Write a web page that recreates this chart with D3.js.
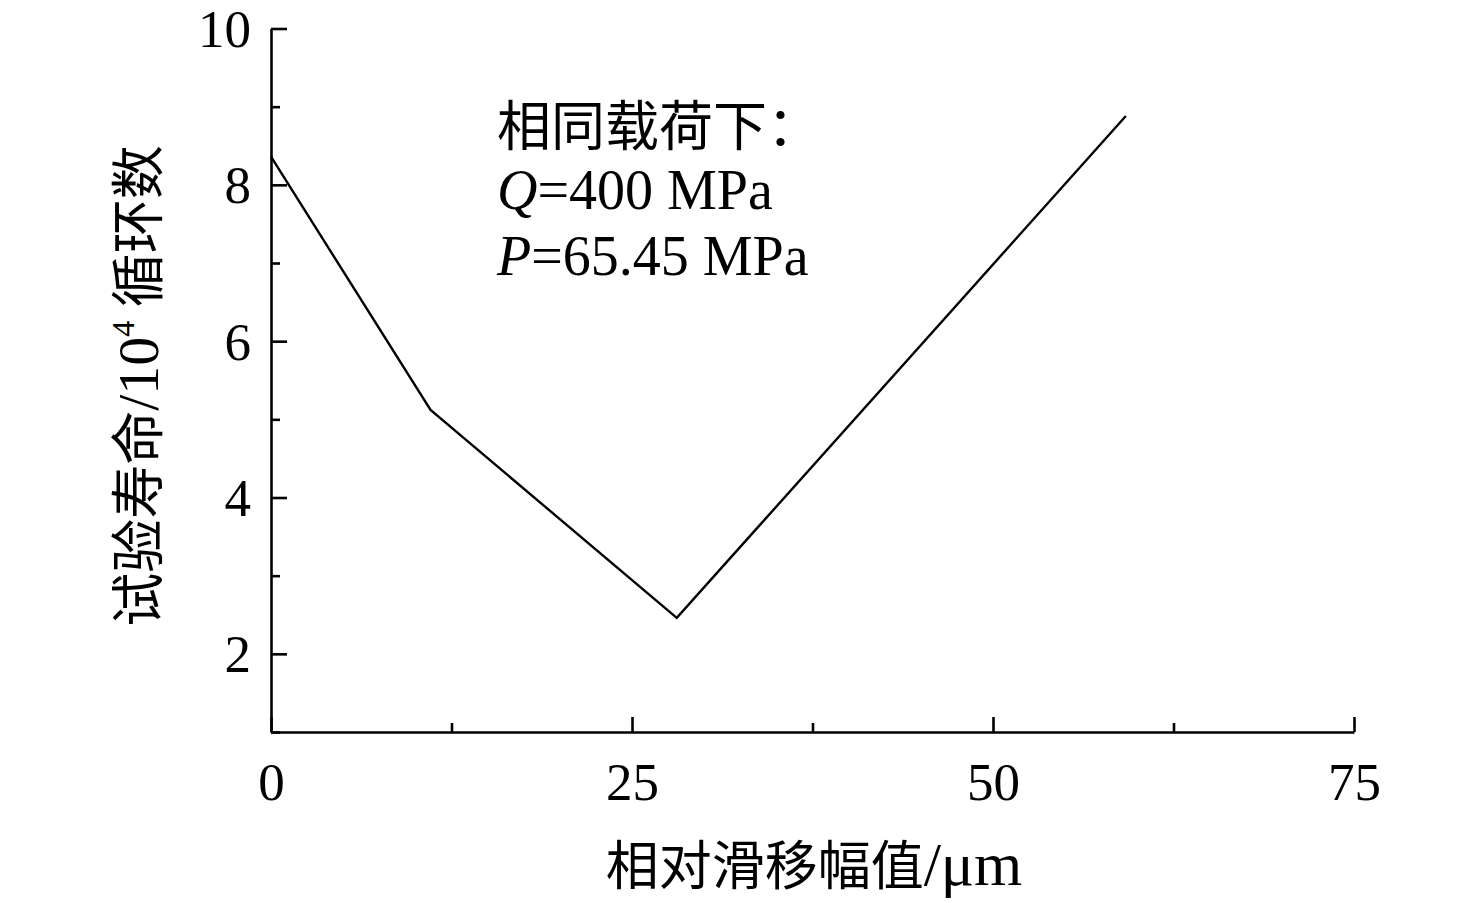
<!DOCTYPE html>
<html><head><meta charset="utf-8">
<script src="https://cdn.jsdelivr.net/npm/d3@7"></script>
<style>body{margin:0;background:#fff;}svg{display:block;}</style>
</head><body>
<script>
const slip = [0, 11.05, 28.1, 59.2];
const life = [8.36, 5.12, 2.46, 8.88];
const xMajor = [0, 25, 50, 75];
const xMinor = [12.5, 37.5, 62.5];
const yMajor = [2, 4, 6, 8, 10];
const yMinor = [1, 3, 5, 7, 9];
const xLabelCJK = "相对滑移幅值";
const xLabelUnit = "/μm";
const noteLines = ["相同载荷下：", "Q=400 MPa", "P=65.45 MPa"];

const W = 1476, H = 903;
const m = {left: 271, top: 28.5, right: 1476 - 1354, bottom: 903 - 732};
const serif = "'Liberation Serif','Times New Roman','Noto Sans CJK SC',serif";
const svg = d3.select("body").append("svg").attr("width", W).attr("height", H);
const x = d3.scaleLinear().domain([0, 75]).range([m.left, W - m.right]);
const y = d3.scaleLinear().domain([1, 10]).range([H - m.bottom, m.top]);

const g = svg.append("g");
// minor ticks
g.append("g").attr("transform", `translate(0,${y(1)})`)
  .call(d3.axisBottom(x).tickValues(xMinor).tickSize(-9).tickFormat(""))
  .call(s => s.select(".domain").remove());
g.append("g").attr("transform", `translate(${x(0)},0)`)
  .call(d3.axisLeft(y).tickValues(yMinor).tickSize(-9).tickFormat(""))
  .call(s => s.select(".domain").remove());
// major
const xa = g.append("g").attr("transform", `translate(0,${y(1)})`)
  .call(d3.axisBottom(x).tickValues(xMajor).tickSize(-15).tickSizeOuter(0).tickPadding(30).tickFormat(d3.format("d")));
const ya = g.append("g").attr("transform", `translate(${x(0)},0)`)
  .call(d3.axisLeft(y).tickValues(yMajor).tickSize(-16).tickSizeOuter(0).tickPadding(20).tickFormat(d3.format("d")));
svg.selectAll(".tick line, .domain").attr("stroke", "#000").attr("stroke-width", 2.6);
svg.selectAll(".tick text").attr("font-family", serif).attr("font-size", 53).attr("fill", "#000");
xa.selectAll(".tick text").attr("dy", "0.71em");
ya.selectAll(".tick text").attr("dy", "0.34em");

// line
const pts = slip.map((v, i) => [v, life[i]]);
svg.append("path").datum(pts)
  .attr("d", d3.line().x(d => x(d[0])).y(d => y(d[1])))
  .attr("fill", "none").attr("stroke", "#000").attr("stroke-width", 2.4);

// x label
const xl = svg.append("text").attr("x", 814).attr("y", 885).attr("text-anchor", "middle")
  .attr("font-family", serif).attr("font-size", 53);
xl.append("tspan").text(xLabelCJK);
xl.append("tspan").attr("font-size", 62).text(xLabelUnit);

// y label
const yl = svg.append("text").attr("transform", "translate(158,386) rotate(-90)")
  .attr("text-anchor", "middle").attr("font-family", serif).attr("font-size", 54);
yl.append("tspan").text("试验寿命");
yl.append("tspan").attr("font-size", 58).text("/10");
yl.append("tspan").attr("font-size", 32).attr("dy", -24).text("4");
yl.append("tspan").attr("dy", 24).text(" 循环数");

// note
const nx = 497;
svg.append("text").attr("x", nx).attr("y", 146).attr("font-family", serif).attr("font-size", 54).text(noteLines[0]);
[noteLines[1], noteLines[2]].forEach((t, i) => {
  const tx = svg.append("text").attr("x", nx).attr("y", 209 + i * 66).attr("font-family", serif).attr("font-size", 56);
  tx.append("tspan").attr("font-style", "italic").text(t[0]);
  tx.append("tspan").text(t.slice(1));
});
</script>
</body></html>
